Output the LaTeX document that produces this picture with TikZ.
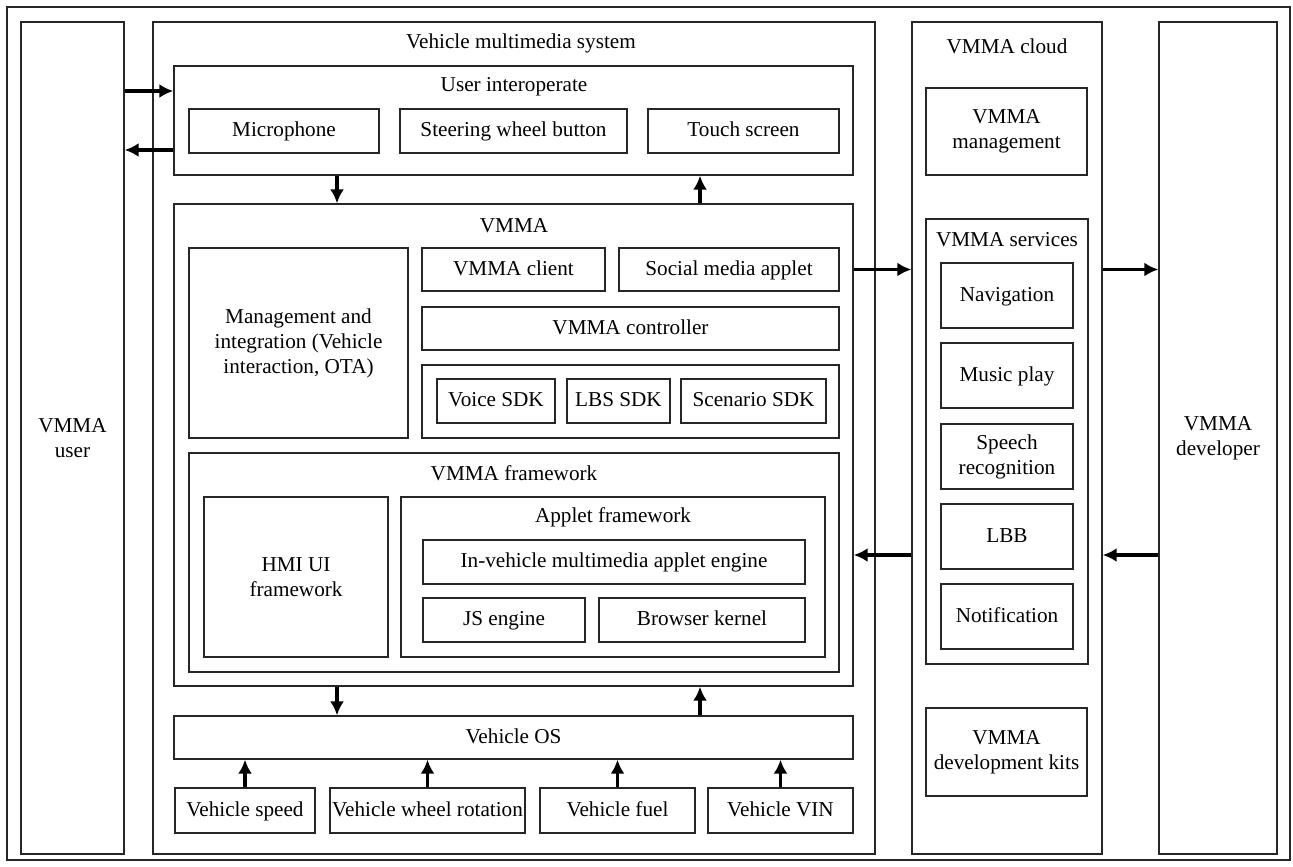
\documentclass[tikz,border=0pt]{standalone}
\usepackage{fontspec}
\setmainfont{Liberation Serif}
\usetikzlibrary{fit, arrows.meta}

\tikzset{
  blk/.style={draw=black!85, line width=0.7pt, inner sep=0pt},
  txt/.style={blk, label={[inner sep=0pt, text height=1.55ex, text depth=0.35ex]center:#1}},
  mtxt/.style={blk, label={[align=center, inner sep=0pt]center:#1}},
  ttl/.style={inner sep=0pt, anchor=center, text height=1.55ex, text depth=0.35ex},
  arr/.style={-{Latex[length=7pt,width=7pt]}, line width=1.8pt},
}

\begin{document}
\begin{tikzpicture}[x=0.5pt, y=-0.5pt, font=\fontsize{10.6}{12.5}\selectfont]
    \useasboundingbox (0,0) rectangle (1293,866);
    % Outer frame
    \node[blk, fit={(7,7) (1290,860)}] (frame) {};

    % VMMA user
    \node[mtxt={VMMA\\user}, fit={(21,22) (124,854)}] (user) {};

    % Vehicle multimedia system
    \node[blk, fit={(153,22) (875,854)}] (vms) {};
    \node[ttl] (vmstitle) at (521,43) {Vehicle multimedia system};

    % User interoperate
    \node[blk, fit={(174,66) (853,175)}] (ui) {};
    \node[ttl] (uititle) at (514,86) {User interoperate};
    \node[txt=Microphone, fit={(189,109) (379,153)}] (mic) {};
    \node[txt=Steering wheel button, fit={(400,109) (627,153)}] (steer) {};
    \node[txt=Touch screen, fit={(648,109) (839,153)}] (touch) {};

    % VMMA
    \node[blk, fit={(174,204) (853,686)}] (vmma) {};
    \node[ttl] (vmmatitle) at (514,227) {VMMA};
    \node[mtxt={Management and\\integration (Vehicle\\interaction, OTA)}, fit={(189,248) (408,438)}] (mgmt) {};
    \node[txt=VMMA client, fit={(422,248) (605,291)}] (client) {};
    \node[txt=Social media applet, fit={(619,248) (839,291)}] (social) {};
    \node[txt=VMMA controller, fit={(422,307) (839,350)}] (ctrl) {};
    \node[blk, fit={(422,365) (839,438)}] (sdk) {};
    \node[txt=Voice SDK, fit={(437,379) (555,423)}] (voice) {};
    \node[txt=LBS SDK, fit={(567,379) (670,423)}] (lbs) {};
    \node[txt=Scenario SDK, fit={(681,379) (826,423)}] (scen) {};

    % VMMA framework
    \node[blk, fit={(189,453) (839,672)}] (fw) {};
    \node[ttl] (fwtitle) at (514,475) {VMMA framework};
    \node[mtxt={HMI UI\\framework}, fit={(204,497) (388,657)}] (hmi) {};
    \node[blk, fit={(401,497) (825,657)}] (applet) {};
    \node[ttl] (applettitle) at (613,517) {Applet framework};
    \node[txt=In-vehicle multimedia applet engine, fit={(423,540) (805,584)}] (engine) {};
    \node[txt=JS engine, fit={(423,598) (585,642)}] (js) {};
    \node[txt=Browser kernel, fit={(599,598) (805,642)}] (browser) {};

    % Vehicle OS and signals
    \node[txt=Vehicle OS, fit={(174,716) (853,759)}] (os) {};
    \node[txt=Vehicle speed, fit={(175,788) (315,833)}] (speed) {};
    \node[txt=Vehicle wheel rotation, fit={(330,788) (525,833)}] (wheel) {};
    \node[txt=Vehicle fuel, fit={(540,788) (695,833)}] (fuel) {};
    \node[txt=Vehicle VIN, fit={(708,788) (853,833)}] (vin) {};

    % VMMA cloud
    \node[blk, fit={(912,22) (1102,854)}] (cloud) {};
    \node[ttl] (cloudtitle) at (1007,48) {VMMA cloud};
    \node[mtxt={VMMA\\management}, fit={(926,88) (1087,175)}] (cmgmt) {};
    \node[blk, fit={(926,219) (1088,664)}] (svc) {};
    \node[ttl] (svctitle) at (1007,241) {VMMA services};
    \node[txt=Navigation, fit={(941,263) (1073,328)}] (nav) {};
    \node[txt=Music play, fit={(941,343) (1073,408)}] (music) {};
    \node[mtxt={Speech\\recognition}, fit={(941,424) (1073,489)}] (speech) {};
    \node[txt=LBB, fit={(941,504) (1073,569)}] (lbb) {};
    \node[txt=Notification, fit={(941,584) (1073,649)}] (notif) {};
    \node[mtxt={VMMA\\development kits}, fit={(926,708) (1087,796)}] (kits) {};

    % VMMA developer
    \node[mtxt={VMMA\\developer}, fit={(1159,22) (1277,854)}] (dev) {};

    % Arrow lanes
    \coordinate (hi) at (0,91);
    \coordinate (lo) at (0,150);
    \coordinate (back) at (0,555);
    \coordinate (dn) at (337,0);
    \coordinate (up) at (700,0);

    % Arrows
    \draw[arr] (user.east |- hi) -- (ui.west |- hi);
    \draw[arr] (ui.west |- lo) -- (user.east |- lo);
    \draw[arr] (ui.south -| dn) -- (vmma.north -| dn);
    \draw[arr] (vmma.north -| up) -- (ui.south -| up);
    \draw[arr] (vmma.south -| dn) -- (os.north -| dn);
    \draw[arr] (os.north -| up) -- (vmma.south -| up);
    \draw[arr] (vmma.east |- social.east) -- (cloud.west |- social.east);
    \draw[arr] (cloud.east |- social.east) -- (dev.west |- social.east);
    \draw[arr] (dev.west |- back) -- (cloud.east |- back);
    \draw[arr] (cloud.west |- back) -- (vmma.east |- back);
    \draw[arr] (speed.north) -- (speed.north |- os.south);
    \draw[arr] (wheel.north) -- (wheel.north |- os.south);
    \draw[arr] (fuel.north) -- (fuel.north |- os.south);
    \draw[arr] (vin.north) -- (vin.north |- os.south);
\end{tikzpicture}
\end{document}
